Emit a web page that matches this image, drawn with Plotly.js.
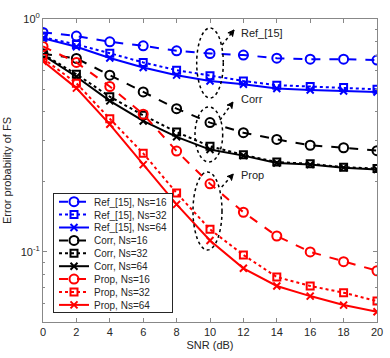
<!DOCTYPE html>
<html>
<head>
<meta charset="utf-8">
<script src="https://cdn.plot.ly/plotly-3.0.1.min.js"></script>
<style>
  html, body { margin: 0; padding: 0; background: #fff; }
  #plotArea { width: 390px; height: 358px; }
</style>
</head>
<body>
<div id="plotArea"></div>
<script>
// SNR points (dB)
var snr = [0, 2, 4, 6, 8, 10, 12, 14, 16, 18, 20];

// error probability of FS
var ref16 = [0.876, 0.845, 0.798, 0.767, 0.730, 0.711, 0.700, 0.679, 0.672, 0.672, 0.666];
var ref32 = [0.834, 0.778, 0.713, 0.651, 0.603, 0.570, 0.542, 0.520, 0.513, 0.508, 0.499];
var ref64 = [0.826, 0.760, 0.680, 0.619, 0.574, 0.542, 0.525, 0.503, 0.496, 0.491, 0.486];

var corr16 = [0.710, 0.677, 0.574, 0.486, 0.412, 0.359, 0.325, 0.304, 0.287, 0.280, 0.272];
var corr32 = [0.707, 0.579, 0.464, 0.386, 0.327, 0.284, 0.261, 0.243, 0.239, 0.231, 0.228];
var corr64 = [0.700, 0.565, 0.445, 0.365, 0.312, 0.275, 0.259, 0.241, 0.237, 0.230, 0.226];

var prop16 = [0.762, 0.651, 0.513, 0.390, 0.271, 0.196, 0.148, 0.117, 0.100, 0.0908, 0.083];
var prop32 = [0.677, 0.530, 0.373, 0.265, 0.179, 0.125, 0.097, 0.078, 0.0714, 0.0668, 0.0615];
var prop64 = [0.659, 0.505, 0.353, 0.237, 0.160, 0.112, 0.085, 0.0714, 0.0646, 0.0591, 0.0553];

var seriesNames = ["Ref_[15], Ns=16", "Ref_[15], Ns=32", "Ref_[15], Ns=64",
                   "Corr, Ns=16", "Corr, Ns=32", "Corr, Ns=64",
                   "Prop, Ns=16", "Prop, Ns=32", "Prop, Ns=64"];
var seriesValues = [ref16, ref32, ref64, corr16, corr32, corr64, prop16, prop32, prop64];

var colors = ["#0000ff", "#000000", "#ff0000"];
var dashes = ["dash", "dot", "solid"];
var symbols = ["circle-open", "square-open", "x-thin-open"];
var sizes = [9, 7, 7];

var data = seriesValues.map(function(vals, i) {
    var g = Math.floor(i / 3), k = i % 3;
    return {
        x: snr,
        y: vals,
        name: seriesNames[i],
        type: "scatter",
        mode: "lines+markers",
        line: {color: colors[g], width: 2, dash: dashes[k]},
        marker: {symbol: symbols[k], size: sizes[k], color: colors[g],
                 line: {color: colors[g], width: 2}}
    };
});

// plot box in pixels, used to place the decorations in paper coords
var box = {l: 43, r: 377, t: 19, b: 322};
function px(x) { return (x - box.l) / (box.r - box.l); }
function py(y) { return (box.b - y) / (box.b - box.t); }

// ellipses around the 10 dB points, arrows and group labels (pixels)
var ellipses = [[196.7, 28, 223.3, 98], [195, 107, 222.7, 162], [193, 172, 222, 250]];
var arrows = [[222, 45, 234, 30], [220, 120, 233, 102], [221.7, 187, 233.3, 174]];
var labels = [["Ref_[15]", 33], ["Corr", 99], ["Prop", 175]];

var shapes = [];
ellipses.forEach(function(e) {
    shapes.push({type: "circle", xref: "paper", yref: "paper",
        x0: px(e[0]), y0: py(e[3]), x1: px(e[2]), y1: py(e[1]),
        line: {color: "#000", width: 1.5, dash: "dot"}});
});
arrows.forEach(function(a) {
    shapes.push({type: "line", xref: "paper", yref: "paper",
        x0: px(a[0]), y0: py(a[1]), x1: px(a[2]), y1: py(a[3]),
        line: {color: "#000", width: 1.5, dash: "dot"}});
    // arrow head
    var dx = a[2] - a[0], dy = a[3] - a[1], n = Math.sqrt(dx * dx + dy * dy);
    var ux = dx / n, uy = dy / n, L = 6, W = 3;
    var bx = a[2] - ux * L, by = a[3] - uy * L;
    var p1 = [bx - uy * W, by + ux * W], p2 = [bx + uy * W, by - ux * W];
    shapes.push({type: "path", xref: "paper", yref: "paper",
        path: "M" + px(a[2]) + "," + py(a[3]) + " L" + px(p1[0]) + "," + py(p1[1]) +
              " L" + px(bx + ux * 1.5) + "," + py(by + uy * 1.5) +
              " L" + px(p2[0]) + "," + py(p2[1]) + " Z",
        fillcolor: "#000", line: {color: "#000", width: 1}});
});

var annotations = labels.map(function(l) {
    return {xref: "paper", yref: "paper", x: px(239), y: py(l[1]),
        xanchor: "left", yanchor: "middle", showarrow: false, text: l[0],
        font: {size: 11, color: "#222"}};
});

var layout = {
    width: 390,
    height: 358,
    margin: {l: 43, r: 13, t: 19, b: 36, autoexpand: false},
    paper_bgcolor: "#fff",
    plot_bgcolor: "#fff",
    font: {family: "Liberation Sans, Arial, sans-serif", size: 11, color: "#262626"},
    showlegend: true,
    legend: {x: px(53), y: py(192.7), xanchor: "left", yanchor: "top",
        bgcolor: "#fff", bordercolor: "#262626", borderwidth: 1,
        font: {size: 10, color: "#262626"}},
    xaxis: {
        range: [0, 20], tickvals: snr, ticks: "inside", ticklen: 4,
        showline: true, mirror: "ticks", linecolor: "#888", tickcolor: "#888",
        showgrid: false, zeroline: false,
        title: {text: "SNR (dB)", standoff: 4, font: {size: 11}}
    },
    yaxis: {
        type: "log", range: [Math.log10(0.05), 0],
        tickvals: [0.1, 1], ticktext: ["10<sup>-1</sup>", "10<sup>0</sup>"],
        ticks: "inside", ticklen: 4,
        minor: {tickvals: [0.06, 0.07, 0.08, 0.09, 0.2, 0.3, 0.4, 0.5, 0.6, 0.7, 0.8, 0.9],
                ticks: "inside", ticklen: 2, tickcolor: "#888"},
        showline: true, mirror: "ticks", linecolor: "#888", tickcolor: "#888",
        showgrid: false, zeroline: false,
        title: {text: "Error probability of FS", standoff: 6, font: {size: 11}}
    },
    shapes: shapes,
    annotations: annotations
};

Plotly.newPlot("plotArea", data, layout, {displayModeBar: false, staticPlot: true}).then(function(gd) {
    // tighten legend rows to match the compact MATLAB-style legend
    var rowH = 12.9, first = 9, legH = 119;
    var items = gd.querySelectorAll(".legend .traces");
    items.forEach(function(it, i) {
        var m = /translate\(([^,]+),/.exec(it.getAttribute("transform") || "");
        var tx = m ? parseFloat(m[1]) : 1;
        it.setAttribute("transform", "translate(" + tx + "," + (first + i * rowH) + ")");
    });
    var bg = gd.querySelector(".legend .bg");
    if (bg) bg.setAttribute("height", legH);
    var sb = gd.querySelector(".legend .scrollbox");
    if (sb) sb.removeAttribute("clip-path");
});
</script>
</body>
</html>
